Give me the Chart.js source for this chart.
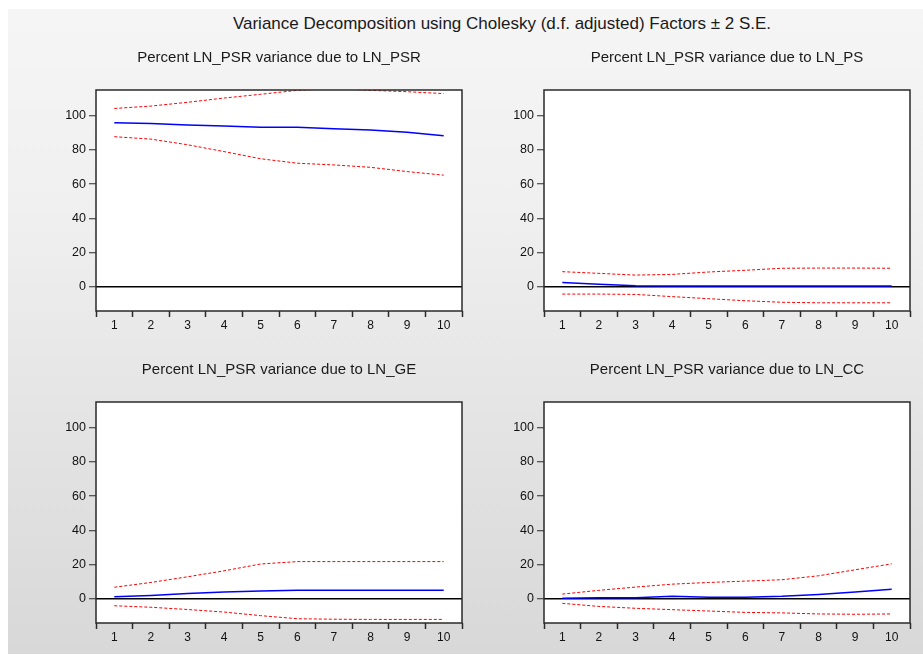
<!DOCTYPE html>
<html>
<head>
<meta charset="utf-8">
<script src="https://cdn.jsdelivr.net/npm/chart.js@4.4.1/dist/chart.umd.min.js"></script>
<style>
  html, body { margin: 0; padding: 0; background: #fff; }
  body { width: 923px; height: 655px; position: relative; overflow: hidden; font-family: "Liberation Sans", Arial, sans-serif; }
  #bg { position: absolute; left: 8px; top: 9px; width: 915px; height: 645px;
        background: linear-gradient(#f5f5f5, #f0f0f0 30%, #e2e2e2 70%, #d8d8d8); }
  #title { position: absolute; left: 202px; top: 14px; width: 600px; text-align: center;
           font-size: 17px; color: #1a1a1a; }
  canvas { position: absolute; }
</style>
</head>
<body>
<div id="bg"></div>
<div id="title">Variance Decomposition using Cholesky (d.f. adjusted) Factors ± 2 S.E.</div>
<canvas id="c1" style="left:0px;top:40px"></canvas>
<canvas id="c2" style="left:448px;top:40px"></canvas>
<canvas id="c3" style="left:0px;top:352px"></canvas>
<canvas id="c4" style="left:448px;top:352px"></canvas>
<script>
// periods (x axis)
const periods = ['1', '2', '3', '4', '5', '6', '7', '8', '9', '10'];
const yTicks = [0, 20, 40, 60, 80, 100];

// due to LN_PSR
const psrMean  = [95.9, 95.4, 94.6, 94.0, 93.2, 93.2, 92.4, 91.6, 90.3, 88.3];
const psrUpper = [104.2, 105.6, 107.8, 110.3, 112.5, 114.8, 115.8, 114.8, 114.0, 112.9];
const psrLower = [87.7, 86.3, 83.0, 79.0, 74.8, 72.2, 71.2, 69.8, 67.3, 65.2];

// due to LN_PS
const psMean  = [2.5, 1.4, 0.6, 0.4, 0.4, 0.4, 0.4, 0.4, 0.4, 0.4];
const psUpper = [8.8, 7.8, 6.8, 7.2, 8.6, 9.6, 10.8, 10.9, 10.9, 10.8];
const psLower = [-4.3, -4.3, -4.5, -5.8, -7.0, -8.2, -9.1, -9.4, -9.4, -9.4];

// due to LN_GE
const geMean  = [1.2, 1.9, 3.0, 3.9, 4.5, 4.9, 4.9, 4.9, 4.9, 4.9];
const geUpper = [6.7, 9.5, 12.8, 16.3, 20.3, 21.7, 21.7, 21.7, 21.7, 21.7];
const geLower = [-4.1, -5.0, -6.3, -7.8, -9.9, -11.7, -12.0, -12.1, -12.1, -12.1];

// due to LN_CC
const ccMean  = [0.2, 0.6, 0.6, 1.4, 0.8, 0.8, 1.4, 2.5, 3.9, 5.6];
const ccUpper = [2.7, 4.9, 6.8, 8.5, 9.5, 10.3, 11.1, 13.4, 16.9, 20.4];
const ccLower = [-2.7, -4.5, -5.6, -6.4, -7.2, -8.0, -8.3, -8.9, -9.1, -8.9];

const FONT = '"Liberation Sans", Arial, sans-serif';

// plot frame around the chart area
const framePlugin = {
    id: 'frame',
    afterDraw(chart) {
        const a = chart.chartArea;
        const ctx = chart.ctx;
        ctx.save();
        ctx.strokeStyle = '#2a2a2a';
        ctx.lineWidth = 1.5;
        ctx.strokeRect(a.left, a.top, a.right - a.left, a.bottom - a.top);
        ctx.restore();
    }
};

// white plot background
const bgPlugin = {
    id: 'plotbg',
    beforeDraw(chart) {
        const a = chart.chartArea;
        chart.ctx.save();
        chart.ctx.fillStyle = '#ffffff';
        chart.ctx.fillRect(a.left, a.top, a.right - a.left, a.bottom - a.top);
        chart.ctx.restore();
    }
};

// panel title centred over the plot area
const subtitlePlugin = {
    id: 'panelTitle',
    afterDraw(chart, args, opts) {
        const a = chart.chartArea;
        const ctx = chart.ctx;
        ctx.save();
        ctx.fillStyle = '#1a1a1a';
        ctx.font = '15px ' + FONT;
        ctx.textAlign = 'center';
        ctx.textBaseline = 'middle';
        ctx.fillText(opts.text, (a.left + a.right) / 2, 18);
        ctx.restore();
    }
};

function makePanel(id, width, title, mean, upper, lower) {
    const canvas = document.getElementById(id);
    canvas.width = width;
    canvas.height = 300;
    canvas.style.width = width + 'px';
    canvas.style.height = '300px';
    new Chart(canvas, {
        type: 'line',
        data: {
            labels: periods,
            datasets: [{
                data: upper,
                borderColor: '#ff0000',
                borderWidth: 1,
                borderDash: [3, 2],
                pointRadius: 0,
                tension: 0
            }, {
                data: lower,
                borderColor: '#ff0000',
                borderWidth: 1,
                borderDash: [3, 2],
                pointRadius: 0,
                tension: 0
            }, {
                data: mean,
                borderColor: '#0000ff',
                borderWidth: 1.5,
                pointRadius: 0,
                tension: 0
            }]
        },
        options: {
            responsive: false,
            animation: false,
            layout: {
                padding: { left: 0, right: width - 96 - 366, top: 50, bottom: 0 }
            },
            plugins: {
                legend: { display: false },
                tooltip: { enabled: false },
                title: { display: false },
                panelTitle: { text: title }
            },
            scales: {
                x: {
                    type: 'category',
                    offset: true,
                    afterFit(scale) { scale.height = 29; },
                    grid: {
                        offset: true,
                        drawOnChartArea: false,
                        tickLength: 6,
                        tickColor: '#2a2a2a',
                        tickWidth: 1.5
                    },
                    border: { display: false },
                    ticks: {
                        color: '#111111',
                        padding: 1,
                        maxRotation: 0,
                        font: { family: FONT, size: 12 }
                    }
                },
                y: {
                    min: -14.2,
                    max: 115,
                    afterFit(scale) { scale.width = 96; },
                    afterBuildTicks(scale) {
                        scale.ticks = yTicks.map(v => ({ value: v }));
                    },
                    grid: {
                        color: ctx => (ctx.tick && ctx.tick.value === 0) ? '#000000' : 'rgba(0,0,0,0)',
                        lineWidth: 1.5,
                        tickLength: 7,
                        tickColor: '#2a2a2a',
                        tickWidth: 1
                    },
                    border: { display: false },
                    ticks: {
                        color: '#111111',
                        padding: 3,
                        font: { family: FONT, size: 12.5 }
                    }
                }
            }
        },
        plugins: [bgPlugin, framePlugin, subtitlePlugin]
    });
}

makePanel('c1', 470, 'Percent LN_PSR variance due to LN_PSR', psrMean, psrUpper, psrLower);
makePanel('c2', 475, 'Percent LN_PSR variance due to LN_PS', psMean, psUpper, psLower);
makePanel('c3', 470, 'Percent LN_PSR variance due to LN_GE', geMean, geUpper, geLower);
makePanel('c4', 475, 'Percent LN_PSR variance due to LN_CC', ccMean, ccUpper, ccLower);
</script>
</body>
</html>
